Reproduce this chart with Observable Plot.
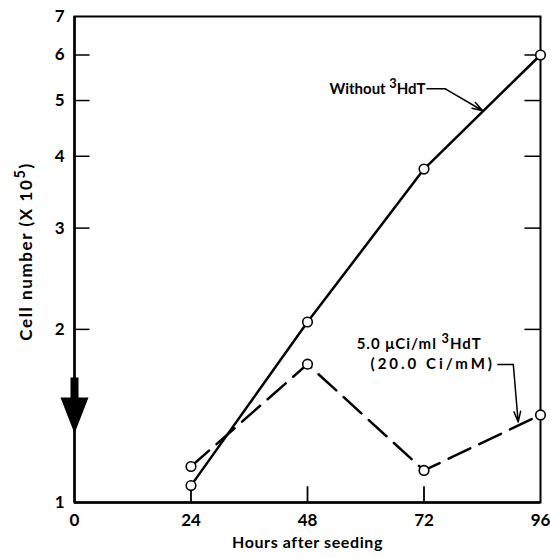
<!DOCTYPE html>
<html>
<head>
<meta charset="utf-8">
<script src="https://cdn.jsdelivr.net/npm/d3@7"></script>
<script src="https://cdn.jsdelivr.net/npm/@observablehq/plot@0.6"></script>
<style>
  html, body { margin: 0; padding: 0; background: #fff; }
  #chart svg { display: block; font-family: Lato, "DejaVu Sans", sans-serif; font-weight: 700; }
</style>
</head>
<body>
<div id="chart"></div>
<script>
// ---- data ----
const hours = [24, 48, 72, 96];
const withoutHdT = [1.07, 2.06, 3.8, 6.0];
const withHdT = [1.155, 1.74, 1.137, 1.42];
const xTicks = [0, 24, 48, 72, 96];
const yTicks = [1, 2, 3, 4, 5, 6, 7];
const innerXTicks = [24, 48, 72];
const innerYTicks = [2, 3, 4, 5, 6];
const seedingArrow = [{x: 0, y: 1.65}];
const label1 = [{x: 72.3, y: 5.24, text: "Without ^3HdT"}];
const leader1Line = [{x: 72.6, y: 5.24}, {x: 76.4, y: 5.24}];
const leader1Arrow = [{x1: 76.4, y1: 5.24, x2: 84.1, y2: 4.8}];
const label2a = [{x: 71.0, y: 1.885, text: "5.0 μCi/ml ^3HdT"}];
const label2b = [{x: 73.8, y: 1.742, text: "(20.0 Ci/mM)"}];
const leader2Line = [{x: 87.2, y: 1.737}, {x: 90.4, y: 1.737}];
const leader2Arrow = [{x1: 90.4, y1: 1.737, x2: 91.4, y2: 1.38}];
const xLabel = "Hours after seeding";
const yLabel = "Cell number (X 10^5)";

const solid = hours.map((h, i) => ({x: h, y: withoutHdT[i]}));
const dashed = hours.map((h, i) => ({x: h, y: withHdT[i]}));

const thickArrow = {
  draw(ctx) {
    const sw = 4, hw = 14, sl = 20, total = 56;
    ctx.moveTo(-sw, 0);
    ctx.lineTo(sw, 0);
    ctx.lineTo(sw, sl);
    ctx.lineTo(hw, sl);
    ctx.lineTo(0, total);
    ctx.lineTo(-hw, sl);
    ctx.lineTo(-sw, sl);
    ctx.closePath();
  }
};

const plot = Plot.plot({
  width: 550,
  height: 558,
  marginLeft: 74,
  marginRight: 10,
  marginTop: 16,
  marginBottom: 56,
  style: {fontFamily: "Lato, 'DejaVu Sans', sans-serif", fontWeight: 700, background: "#fff", color: "#000"},
  x: {domain: [0, 96], axis: null},
  y: {type: "log", domain: [1, 7], axis: null},
  marks: [
    Plot.frame({stroke: "#000", strokeWidth: 2}),
    Plot.ruleX([0], {stroke: "#000", strokeWidth: 2.5}),
    Plot.ruleY([1], {stroke: "#000", strokeWidth: 2.5}),
    Plot.ruleY(innerYTicks, {y: d => d, x1: 0, x2: 3.2, stroke: "#000", strokeWidth: 1.5}),
    Plot.ruleY(innerYTicks, {y: d => d, x1: 92.8, x2: 96, stroke: "#000", strokeWidth: 1.5}),
    Plot.ruleX(innerXTicks, {x: d => d, y1: 1, y2: 1.065, stroke: "#000", strokeWidth: 1.8}),
    Plot.text(xTicks, {x: d => d, y: 1, dy: 18, text: d => String(d), fontSize: 17, fill: "#000"}),
    Plot.text(yTicks, {x: 0, y: d => d, dx: -10, textAnchor: "end", text: d => String(d), fontSize: 17, fill: "#000"}),
    Plot.line(solid, {x: "x", y: "y", stroke: "#000", strokeWidth: 2.5}),
    Plot.line(dashed, {x: "x", y: "y", stroke: "#000", strokeWidth: 2.5, strokeDasharray: "24,10"}),
    Plot.dot(solid, {x: "x", y: "y", r: 4.8, fill: "#fff", stroke: "#000", strokeWidth: 1.6}),
    Plot.dot(dashed, {x: "x", y: "y", r: 4.8, fill: "#fff", stroke: "#000", strokeWidth: 1.6}),
    Plot.dot(seedingArrow, {x: "x", y: "y", symbol: thickArrow, r: 10, fill: "#000", stroke: "none"}),
    Plot.text(label1, {x: "x", y: "y", text: "text", textAnchor: "end", fontSize: 15, fill: "#000"}),
    Plot.line(leader1Line, {x: "x", y: "y", stroke: "#000", strokeWidth: 1.5}),
    Plot.arrow(leader1Arrow, {x1: "x1", y1: "y1", x2: "x2", y2: "y2", stroke: "#000", strokeWidth: 1.5, headAngle: 35, headLength: 11}),
    Plot.text(label2a, {x: "x", y: "y", text: "text", fontSize: 15, fill: "#000"}),
    Plot.text(label2b, {x: "x", y: "y", text: "text", fontSize: 15, fill: "#000"}),
    Plot.line(leader2Line, {x: "x", y: "y", stroke: "#000", strokeWidth: 1.5}),
    Plot.arrow(leader2Arrow, {x1: "x1", y1: "y1", x2: "x2", y2: "y2", stroke: "#000", strokeWidth: 1.5, headAngle: 35, headLength: 11}),
    Plot.text([xLabel], {frameAnchor: "bottom", dy: 45, text: d => d, fontSize: 16, fill: "#000"}),
    Plot.text([yLabel], {frameAnchor: "left", textAnchor: "middle", dx: -48, dy: -8, rotate: -90, text: d => d, fontSize: 17, fill: "#000"})
  ]
});

document.getElementById("chart").appendChild(plot);

// letter spacing tweaks for wide-set labels
d3.select(plot).selectAll("text").each(function() {
  const t = this.textContent;
  if (t === "(20.0 Ci/mM)") this.setAttribute("letter-spacing", "3");
  if (t === "Cell number (X 10^5)") this.setAttribute("letter-spacing", "1.6");
  if (t === "5.0 μCi/ml ^3HdT") this.setAttribute("letter-spacing", "1");
  if (t === "Hours after seeding") this.setAttribute("letter-spacing", "0.6");
});

// render "^n" as superscripts
d3.select(plot).selectAll("text").each(function() {
  const el = this;
  const txt = el.textContent;
  if (!txt.includes("^")) return;
  const m = txt.match(/^(.*)\^(\d)(.*)$/);
  if (!m) return;
  while (el.firstChild) el.removeChild(el.firstChild);
  const sel = d3.select(el);
  sel.append("tspan").text(m[1]);
  sel.append("tspan").attr("dy", "-0.45em").attr("font-size", "0.85em").text(m[2]);
  sel.append("tspan").attr("dy", "0.38em").text(m[3]);
});
</script>
</body>
</html>
